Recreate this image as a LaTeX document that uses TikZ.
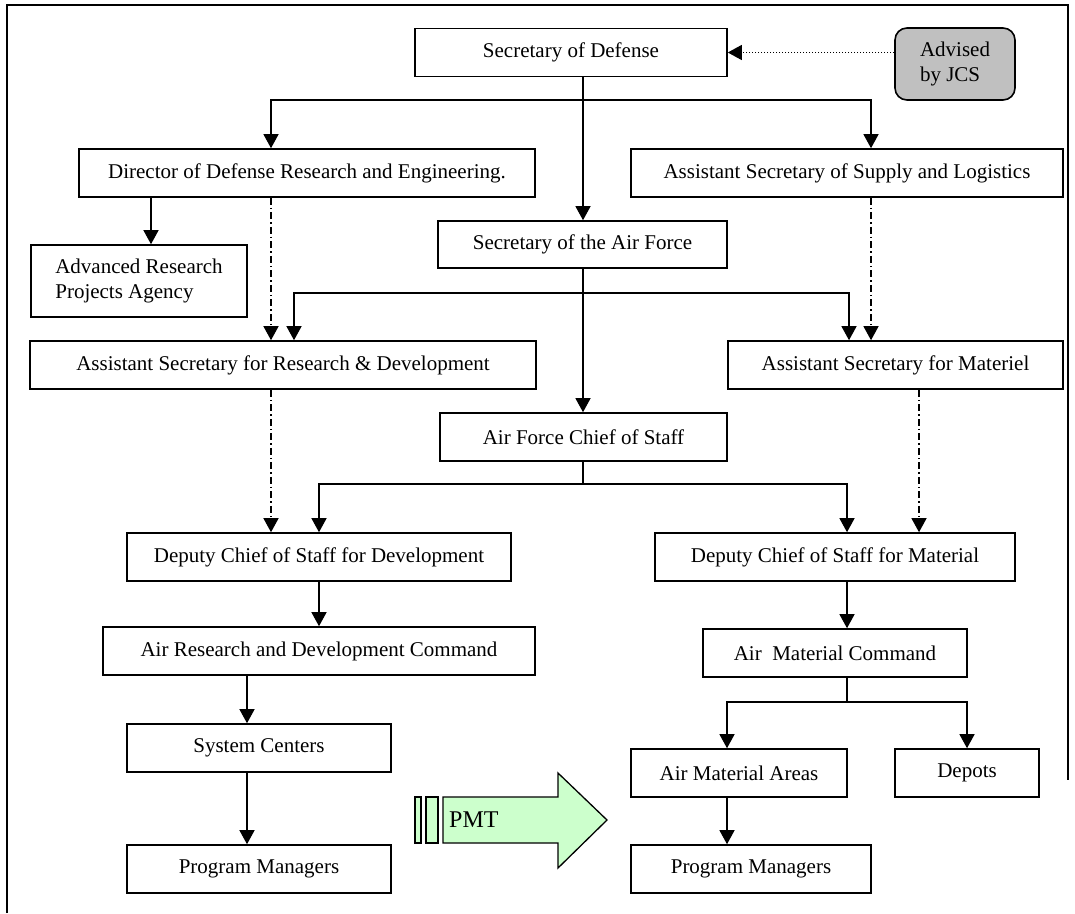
\documentclass[tikz,border=0pt]{standalone}
\usepackage{fontspec}
\setmainfont{Liberation Serif}
\usetikzlibrary {positioning,arrows.meta}
\definecolor {jcsgray}{RGB}{192,192,192}
\definecolor {pmtgreen}{RGB}{204,255,204}

\begin{document}
\begin{tikzpicture}[x=1pt,y=-1pt,>={Triangle[length=14pt,width=15pt]}]
  \tikzstyle{box}=[draw, line width=1.6pt, minimum height=48pt, inner sep=0pt,
font=\fontsize{21}{25}\selectfont]
  \tikzstyle{link}=[->, line width=1.3pt]
  \tikzstyle{advice}=[->, line width=1.3pt, dash pattern=on 7pt off 3pt on 1.5pt off 3pt]
  \useasboundingbox (0,0) rectangle (1075,913);
  \draw[line width=2pt] (7,913) -- (7,5) -- (1068,5) -- (1068,780);

  \node[box, minimum width=312pt] (sd) at (571,52.5) {Secretary of Defense};
  \node[box, minimum width=120pt, minimum height=72pt, fill=jcsgray, rounded corners=12pt,
align=left] (jcs) at (955,64) {Advised\\by JCS};
  \node[box, minimum width=456pt] (dre) at (307,173) {Director of Defense Research and Engineering.};
  \node[box, minimum width=432pt] (assl) at (847,173) {Assistant Secretary of Supply and Logistics};
  \node[box, minimum width=289pt, minimum height=47pt] (saf) at (582.5,244.5) {Secretary of the Air Force};
  \node[box, minimum width=216pt, minimum height=72pt, align=left] (arpa) at (139,281) {Advanced Research\\Projects Agency};
  \node[box, minimum width=506pt] (asrd) at (283,365) {Assistant Secretary for Research \& Development};
  \node[box, minimum width=335pt] (asm) at (895.5,365) {Assistant Secretary for Materiel};
  \node[box, minimum width=287pt] (afcs) at (583.5,437) {Air Force Chief of Staff};
  \node[box, minimum width=384pt] (dcsd) at (319,557) {Deputy Chief of Staff for Development};
  \node[box, minimum width=360pt] (dcsm) at (835,557) {Deputy Chief of Staff for Material};
  \node[box, minimum width=432pt] (ardc) at (319,651) {Air Research and Development Command};
  \node[box, minimum width=264pt] (amc) at (835,653) {Air~\ Material Command};
  \node[box, minimum width=264pt] (sc) at (259,748) {System Centers};
  \node[box, minimum width=216pt] (ama) at (739,773) {Air Material Areas};
  \node[box, minimum width=144pt] (dep) at (967,773) {Depots};
  \node[box, minimum width=264pt] (pm_1) at (259,869) {Program Managers};
  \node[box, minimum width=240pt] (pm_2) at (751,869) {Program Managers};

  % secretary of defense
  \coordinate (bus_1) at (583,100);
  \draw[line width=1.3pt] (bus_1 |- sd.south) -- (bus_1);
  \draw[link] (bus_1) -| (271,0 |- dre.north);
  \draw[link] (bus_1) -| (871,0 |- assl.north);
  \draw[link] (bus_1) -- (bus_1 |- saf.north);
  \draw[->, line width=1.3pt, dash pattern=on 1.5pt off 1.5pt] (jcs.west |- sd.east) -- (sd.east);
  \draw[link] (151,0 |- dre.south) -- (151,0 |- arpa.north);
  \draw[advice] (271,0 |- dre.south) -- (271,0 |- asrd.north);
  \draw[advice] (871,0 |- assl.south) -- (871,0 |- asm.north);

  % air force
  \coordinate (bus_2) at (583,293);
  \draw[link] (bus_2 |- saf.south) -- (bus_2 |- afcs.north);
  \draw[link] (bus_2) -| (294,0 |- asrd.north);
  \draw[link] (bus_2) -| (849,0 |- asm.north);
  \draw[advice] (271,0 |- asrd.south) -- (271,0 |- dcsd.north);
  \draw[advice] (919,0 |- asm.south) -- (919,0 |- dcsm.north);
  \coordinate (bus_3) at (583,484);
  \draw[line width=1.3pt] (bus_3 |- afcs.south) -- (bus_3);
  \draw[link] (bus_3) -| (319,0 |- dcsd.north);
  \draw[link] (bus_3) -| (847,0 |- dcsm.north);

  % commands
  \draw[link] (dcsd) -- (ardc);
  \draw[link] (847,0 |- dcsm.south) -- (847,0 |- amc.north);
  \draw[link] (247,0 |- ardc.south) -- (247,0 |- sc.north);
  \draw[link] (247,0 |- sc.south) -- (247,0 |- pm_1.north);
  \coordinate (bus_4) at (847,702);
  \draw[line width=1.3pt] (bus_4 |- amc.south) -- (bus_4);
  \draw[link] (bus_4) -| (727,0 |- ama.north);
  \draw[link] (bus_4) -| (967,0 |- dep.north);
  \draw[link] (727,0 |- ama.south) -- (727,0 |- pm_2.north);

  % transfer arrow
  \draw[fill=pmtgreen, line width=1.3pt] (415,797) rectangle (421,843);
  \draw[fill=pmtgreen, line width=1.3pt] (426,797) rectangle (438,843);
  \draw[fill=pmtgreen, line width=1.3pt] (443,797) -- (558,797) -- (558,773) -- (607,820)
    -- (558,868) -- (558,843) -- (443,843) -- cycle;
  \node[anchor=west, inner sep=0pt, font=\fontsize{24}{28}\selectfont] (pmt) at (449,820) {PMT};
\end{tikzpicture}
\end{document}
